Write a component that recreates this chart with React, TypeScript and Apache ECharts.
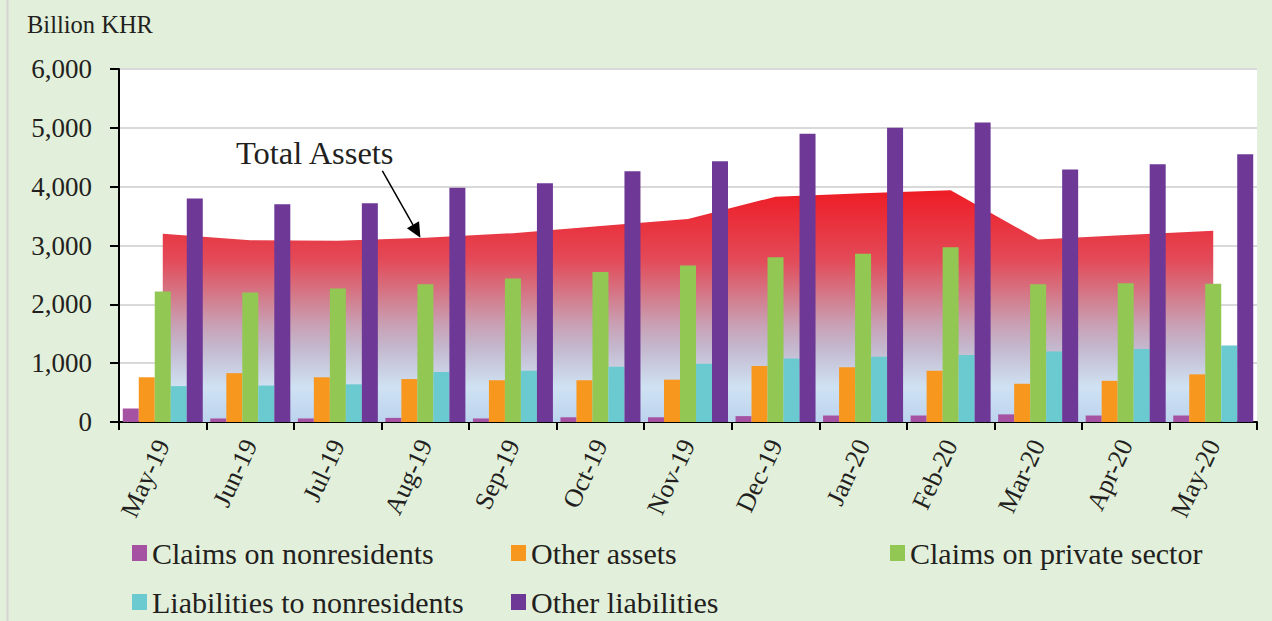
import React, { useEffect, useRef } from 'react';
import * as echarts from 'echarts';

const categories = ['May-19', 'Jun-19', 'Jul-19', 'Aug-19', 'Sep-19', 'Oct-19', 'Nov-19', 'Dec-19', 'Jan-20', 'Feb-20', 'Mar-20', 'Apr-20', 'May-20'];
const claimsNonres = [230, 60, 60, 70, 60, 80, 80, 100, 110, 110, 130, 110, 110];
const otherAssets = [760, 830, 760, 730, 710, 710, 720, 950, 930, 870, 650, 700, 810];
const claimsPrivate = [2220, 2200, 2270, 2340, 2440, 2550, 2660, 2800, 2860, 2970, 2340, 2360, 2350];
const liabNonres = [610, 620, 640, 850, 870, 940, 990, 1080, 1110, 1140, 1200, 1240, 1300];
const otherLiab = [3800, 3700, 3720, 3980, 4060, 4260, 4430, 4900, 5000, 5090, 4290, 4380, 4550];
const totalAssets = [3200, 3090, 3080, 3130, 3210, 3330, 3450, 3830, 3890, 3940, 3100, 3180, 3250];
const yTicks = [0, 1000, 2000, 3000, 4000, 5000, 6000];

const seriesNames = ['Claims on nonresidents', 'Other assets', 'Claims on private sector', 'Liabilities to nonresidents', 'Other liabilities'];
const seriesColors = ['#A652A2', '#F7971D', '#92C753', '#6BCAD0', '#6E3996'];
const seriesData = [claimsNonres, otherAssets, claimsPrivate, liabNonres, otherLiab];

const FONT = "'Liberation Serif', 'Times New Roman', serif";
const TXT = '#231F20';

export default function App() {
  const ref = useRef<HTMLDivElement>(null);
  useEffect(() => {
    const el = ref.current!;
    const chart = echarts.init(el, null, { renderer: 'svg' });
    const legendText = { fontSize: 30, fontFamily: FONT, color: TXT, lineHeight: 30 };
    const legendBase = {
      orient: 'vertical',
      top: 538,
      itemWidth: 15,
      itemHeight: 16,
      itemGap: 19,
      icon: 'rect',
      padding: 0,
      selectedMode: false,
      textStyle: legendText,
    };
    const option: any = {
      animation: false,
      backgroundColor: '#E2EFDA',
      grid: {
        left: 119,
        right: 15,
        top: 69,
        bottom: 199,
        show: true,
        backgroundColor: '#FFFFFF',
        borderWidth: 0,
      },
      legend: [
        { ...legendBase, left: 132, data: [seriesNames[0], seriesNames[3]] },
        { ...legendBase, left: 511, data: [seriesNames[1], seriesNames[4]] },
        { ...legendBase, left: 890, data: [seriesNames[2]] },
      ],
      xAxis: {
        type: 'category',
        data: categories,
        boundaryGap: true,
        axisLine: { lineStyle: { color: '#000', width: 2 } },
        axisTick: { show: true, length: 8, lineStyle: { color: '#000', width: 2 } },
        axisLabel: {
          rotate: 65,
          fontSize: 26,
          fontFamily: FONT,
          color: TXT,
          margin: 19,
          interval: 0,
        },
      },
      yAxis: {
        type: 'value',
        min: yTicks[0],
        max: yTicks[yTicks.length - 1],
        interval: 1000,
        axisLine: { show: true, lineStyle: { color: '#000', width: 2 } },
        axisTick: { show: true, length: 9, lineStyle: { color: '#000', width: 2 } },
        splitLine: { lineStyle: { color: '#D9D9D9', width: 2 } },
        axisLabel: {
          fontSize: 27,
          fontFamily: FONT,
          color: TXT,
          margin: 27,
          formatter: (v: number) => v.toLocaleString('en-US'),
        },
      },
      series: [
        {
          name: 'Total Assets',
          type: 'line',
          data: totalAssets,
          showSymbol: false,
          symbol: 'none',
          lineStyle: { width: 0 },
          z: 1,
          areaStyle: {
            opacity: 1,
            color: new echarts.graphic.LinearGradient(0, 0, 0, 1, [
              { offset: 0, color: '#EE1C25' },
              { offset: 0.3, color: '#E34A58' },
              { offset: 0.45, color: '#D47888' },
              { offset: 0.58, color: '#C9A0B4' },
              { offset: 0.68, color: '#C4B8CE' },
              { offset: 0.85, color: '#CFE2F3' },
              { offset: 1, color: '#BCD3EE' },
            ]),
          },
        },
        ...seriesNames.map((name, i) => ({
          name,
          type: 'bar',
          data: seriesData[i],
          barWidth: 16,
          barGap: '0%',
          z: 2,
          itemStyle: { color: seriesColors[i] },
        })),
      ],
    };
    chart.setOption(option);

    const tip = chart.convertToPixel({ gridIndex: 0 }, [3, totalAssets[3]]) as number[];
    const tx = tip[0] - 5;
    const ty = tip[1];
    const sx = tx - 38;
    const sy = ty - 67;
    const len = Math.hypot(tx - sx, ty - sy);
    const ux = (tx - sx) / len;
    const uy = (ty - sy) / len;
    const hl = 15;
    const hw = 7;
    const bx = tx - ux * hl;
    const by = ty - uy * hl;
    chart.setOption({
      graphic: [
        {
          type: 'line',
          shape: { x1: 7.5, y1: 0, x2: 7.5, y2: 621 },
          style: { stroke: '#D4D4D4', lineWidth: 2 },
          silent: true,
        },
        {
          type: 'text',
          left: 27,
          top: 12,
          style: { text: 'Billion KHR', fontSize: 24.5, fontFamily: FONT, fill: TXT },
        },
        {
          type: 'text',
          left: 236,
          top: 136,
          z: 10,
          style: { text: 'Total Assets', fontSize: 32.5, fontFamily: FONT, fill: TXT },
        },
        {
          type: 'line',
          z: 10,
          shape: { x1: sx, y1: sy, x2: bx, y2: by },
          style: { stroke: '#000', lineWidth: 1.5 },
        },
        {
          type: 'polygon',
          z: 10,
          shape: {
            points: [
              [tx, ty],
              [bx - uy * hw, by + ux * hw],
              [bx + uy * hw, by - ux * hw],
            ],
          },
          style: { fill: '#000' },
        },
      ],
    });
    return () => chart.dispose();
  }, []);
  return (
    <div
      ref={ref}
      style={{ position: 'fixed', left: 0, top: 0, width: 1272, height: 621 }}
    />
  );
}
